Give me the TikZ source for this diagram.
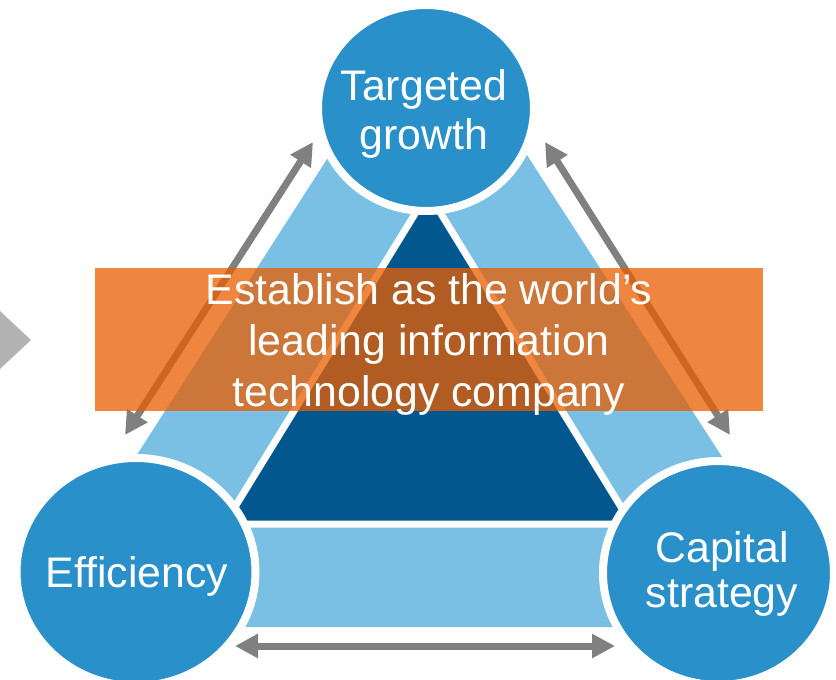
\documentclass[tikz,border=0pt]{standalone}
\usepackage{fontspec}
\setmainfont{Liberation Sans}
\usetikzlibrary{arrows.meta,shapes.geometric}
\definecolor{circblue}{RGB}{42,144,202}
\definecolor{lightblue}{RGB}{122,192,228}
\definecolor{darkblue}{RGB}{3,87,143}
\definecolor{arrowgray}{RGB}{128,128,128}
\definecolor{chevgray}{RGB}{179,179,179}
\definecolor{orangefill}{RGB}{234,94,0}
\begin{document}
\begin{tikzpicture}[x=1pt,y=-1pt,
  circ/.style={ellipse, fill=circblue, draw=white, line width=8pt, inner sep=0pt},
  lbl/.style={text=white, font=\fontsize{42.8}{49}\selectfont, align=center, inner sep=0pt, anchor=base},
  duo/.style={draw=arrowgray, line width=7pt, {Triangle[width=23pt,length=23pt]}-{Triangle[width=23pt,length=23pt]}},
  band/.style={fill=orangefill, fill opacity=0.75, inner sep=0pt, anchor=north west}
]
\useasboundingbox (0,0) rectangle (836,680);
% left chevron
\fill[chevgray] (0,311) -- (31,340) -- (0,369) -- cycle;
% outer light-blue triangle
\fill[lightblue] (428,2) -- (50,590) -- (50,627) -- (790,627) -- (790,562) -- cycle;
% inner dark triangle
\filldraw[fill=darkblue, draw=white, line width=7pt, line join=miter] (428,192.6) -- (224.5,524) -- (631.5,524) -- cycle;
% arrow end points
\coordinate (la) at (125,435);
\coordinate (lb) at (313,142);
\coordinate (ra) at (545,142);
\coordinate (rb) at (730,435);
\coordinate (ba) at (235,646);
\coordinate (bb) at (615,646);
\draw[duo] (la) -- (lb);
\draw[duo] (ra) -- (rb);
\draw[duo] (ba) -- (bb);
% circles
\node[circ, minimum width=216pt, minimum height=206pt] (tg) at (426,108) {};
\node[circ, minimum width=239pt, minimum height=228pt] (ef) at (136,572) {};
\node[circ, minimum width=231pt, minimum height=224pt] (cs) at (718.5,573) {};
\node[lbl] (tgt) at (424,149) {Targeted\\growth};
\node[lbl] (eft) at (137,587) {Efficiency};
\node[lbl, font=\fontsize{42.8}{45}\selectfont] (cst) at (722,607) {Capital\\strategy};
% orange banner
\node[band, minimum width=668pt, minimum height=143pt] (ban) at (95,268) {};
\node[lbl, font=\fontsize{42.8}{51}\selectfont] (bant) at (429,406) {Establish as the world’s\\leading information\\technology company};
\end{tikzpicture}
\end{document}
